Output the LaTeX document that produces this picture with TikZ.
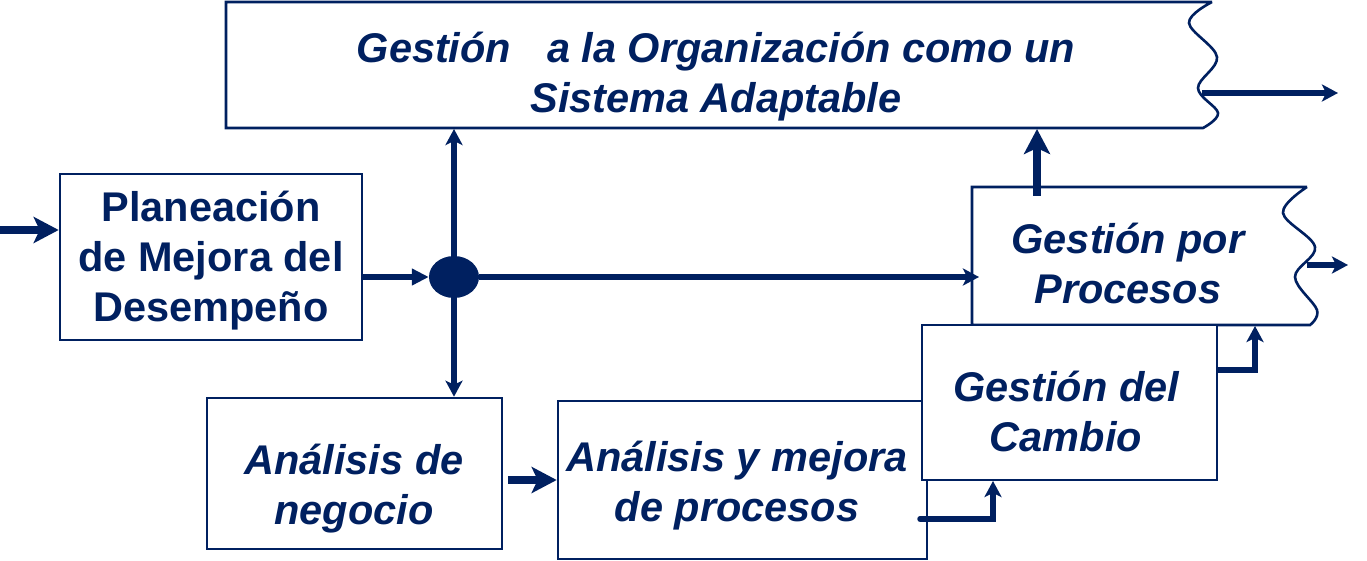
\documentclass[tikz,border=0pt]{standalone}
\usepackage{fontspec}
\setmainfont{Liberation Sans}
\usetikzlibrary{arrows.meta}
\usetikzlibrary{calc}
\usetikzlibrary{shapes.geometric}
\definecolor{navy}{RGB}{0,32,96}
\newcommand{\boxfont}{\fontsize{41.5}{50}\selectfont\bfseries}
\tikzset{
    boxline/.style={draw=navy, line width=2.6pt},
    upright/.style={text=navy, align=center, inner sep=0pt, font=\boxfont},
    slanted/.style={text=navy, align=center, inner sep=0pt, font=\boxfont\itshape},
    box/.style={boxline, fill=white, inner sep=0pt},
    flow/.style={navy, line width=5.5pt, -{Stealth[length=16pt, width=17pt, inset=4pt]}},
    bigflow/.style={navy, line width=8pt, -{Stealth[length=25pt, width=26pt, inset=6pt]}}
}
\newcommand{\drawflow}{\draw[flow]}
\newcommand{\drawbig}{\draw[bigflow]}

\begin{document}
\begin{tikzpicture}[x=1pt, y=-1pt]
    \useasboundingbox (0,0) rectangle (1367,561);

    % Draw wavy boxes
    \draw[boxline] (1212,2) -- (226,2) -- (226,128) -- (1203,128)
        -- plot[smooth, tension=0.6] coordinates {(1203,128) (1218,113) (1198,88) (1217,57) (1189,23) (1212,2)};
    \node[slanted] (org) at (716,77) {Gestión\hspace*{36pt}a la Organización como un\\Sistema Adaptable};

    % Draw boxes
    \node[box, minimum width=302pt, minimum height=166pt] (plan) at (211,257) {};
    \node[box, minimum width=295pt, minimum height=151pt] (negocio) at (354.5,473.5) {};
    \node[box, minimum width=369pt, minimum height=158pt] (mejora) at (742.5,480) {};
    \draw[box] (1307,187) -- (972,187) -- (972,325) -- (1310,325)
        -- plot[smooth, tension=0.6] coordinates {(1310,325) (1317,310) (1295,277) (1315,247) (1283,213) (1307,187)};
    \node[box, minimum width=295pt, minimum height=155pt] (cambio) at (1069.5,402.5) {};

    % Box texts
    \node[upright] (plan-text) at (211,261) {Planeación\\de Mejora del\\Desempeño};
    \node[slanted] (negocio-text) at (354,489) {Análisis de\\negocio};
    \node[slanted] (mejora-text) at (737,486) {Análisis y mejora\\de procesos};
    \node[slanted] (procesos) at (1128,263) {Gestión por\\Procesos};
    \node[slanted] (cambio-text) at (1066,411) {Gestión del\\Cambio};

    % Draw hub
    \node[ellipse, fill=navy, minimum width=50pt, minimum height=42pt, inner sep=0pt] (hub) at (454,277) {};

    % Connection points
    \coordinate (start) at (0,230);
    \coordinate (org-hub) at (454,129);
    \coordinate (org-up) at (1037,129);
    \coordinate (org-out) at (1202,93);
    \coordinate (end-org) at (1338,93);
    \coordinate (proc-in) at (979,277);
    \coordinate (proc-up) at (1037,196);
    \coordinate (proc-out) at (1307,265);
    \coordinate (end-proc) at (1348,265);
    \coordinate (proc-s) at (1255,326);
    \coordinate (mejora-out) at (920,519);
    \coordinate (cambio-in) at (993,481);
    \coordinate (cambio-out) at (1217,370);

    % Draw connectors
    \drawbig (start) -- (start -| plan.west);
    \draw[navy, line width=5.5pt, -{Triangle[length=17pt, width=16pt]}] (plan.east |- hub) -- (hub.west);
    \drawflow (hub.north) -- (org-hub);
    \drawflow (hub.south) -- (hub |- negocio.north);
    \drawflow (hub.east) -- (proc-in);
    \drawbig (proc-up) -- (org-up);
    \drawflow (org-out) -- (end-org);
    \drawflow (proc-out) -- (end-proc);
    \drawbig[shorten <=5pt] (negocio.east |- mejora.west) -- (mejora.west);
    \drawflow[line cap=round] (mejora-out) -| (cambio-in);
    \drawflow (cambio-out) -| (proc-s);
\end{tikzpicture}
\end{document}
